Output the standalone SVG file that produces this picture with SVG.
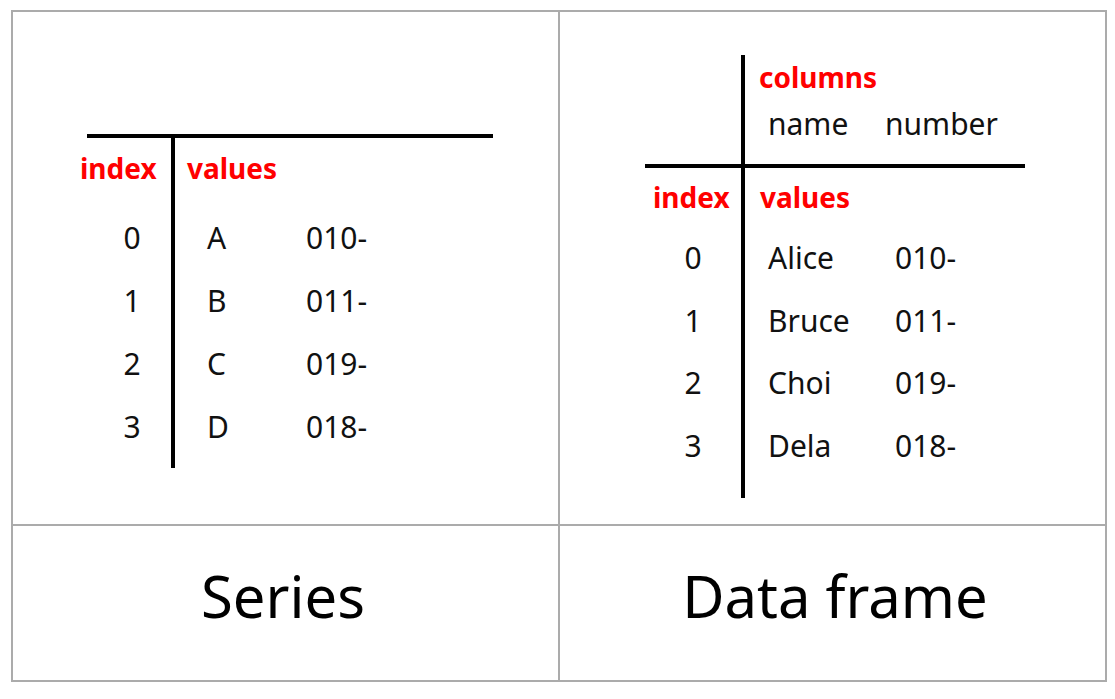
<svg xmlns="http://www.w3.org/2000/svg" width="1115" height="699" viewBox="0 0 1115 699">
<style>
.grid{fill:none;stroke:#ababab;stroke-width:2}
.axis{stroke:#000;stroke-width:4;stroke-linecap:butt}
.t{font-family:"Noto Sans","Open Sans","DejaVu Sans",sans-serif;font-size:30px;fill:#111}
.h{font-family:"Noto Sans","Open Sans","DejaVu Sans",sans-serif;font-size:28px;font-weight:bold;fill:#ff0000}
.big{font-family:"Noto Sans","Open Sans","DejaVu Sans",sans-serif;font-size:58px;fill:#000;text-anchor:middle}
.c{text-anchor:middle}
</style>
<rect width="1115" height="699" fill="#fff"/>
<g id="frame">
<rect class="grid" x="12" y="11" width="1094" height="670"/>
<line class="grid" x1="559" y1="11" x2="559" y2="681"/>
<line class="grid" x1="12" y1="525" x2="1106" y2="525"/>
</g>
<g id="series">
<line class="axis" x1="87" y1="136" x2="493" y2="136"/>
<line class="axis" x1="173" y1="136" x2="173" y2="468"/>
<text class="h" x="80" y="179">index</text>
<text class="h" x="187" y="179">values</text>
<text class="t c" x="132" y="249">0</text>
<text class="t c" x="132" y="312">1</text>
<text class="t c" x="132" y="375">2</text>
<text class="t c" x="132" y="438">3</text>
<text class="t" x="207" y="249">A</text>
<text class="t" x="207" y="312">B</text>
<text class="t" x="207" y="375">C</text>
<text class="t" x="207" y="438">D</text>
<text class="t" x="306" y="249">010-</text>
<text class="t" x="306" y="312">011-</text>
<text class="t" x="306" y="375">019-</text>
<text class="t" x="306" y="438">018-</text>
</g>
<g id="dataframe">
<line class="axis" x1="743" y1="55" x2="743" y2="498"/>
<line class="axis" x1="645" y1="166" x2="1025" y2="166"/>
<text class="h" x="759" y="88">columns</text>
<text class="t" x="768" y="135">name</text>
<text class="t" x="885" y="135">number</text>
<text class="h" x="653" y="208">index</text>
<text class="h" x="760" y="208">values</text>
<text class="t c" x="693" y="269">0</text>
<text class="t c" x="693" y="332">1</text>
<text class="t c" x="693" y="394">2</text>
<text class="t c" x="693" y="457">3</text>
<text class="t" x="768" y="269">Alice</text>
<text class="t" x="768" y="332">Bruce</text>
<text class="t" x="768" y="394">Choi</text>
<text class="t" x="768" y="457">Dela</text>
<text class="t" x="895" y="269">010-</text>
<text class="t" x="895" y="332">011-</text>
<text class="t" x="895" y="394">019-</text>
<text class="t" x="895" y="457">018-</text>
</g>
<g id="labels">
<text class="big" x="283" y="618">Series</text>
<text class="big" x="835" y="618">Data frame</text>
</g>
</svg>
